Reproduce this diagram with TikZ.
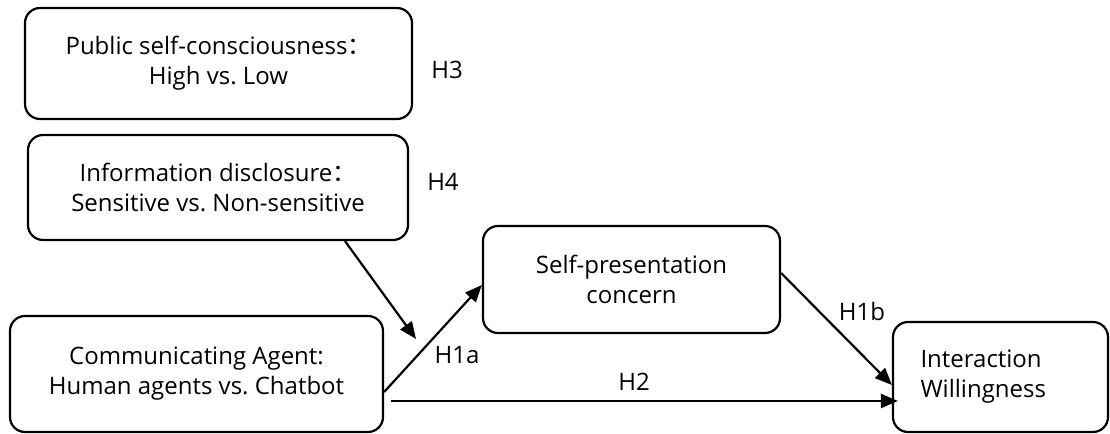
\documentclass[tikz,border=0pt]{standalone}
\usepackage{fontspec}
\setmainfont{Open Sans}
\newfontfamily\cjk{Noto Sans CJK SC}
\usetikzlibrary{arrows.meta,positioning}
\newcommand{\fwcolon}{{\cjk ：}}
\tikzset{
  varbox/.style={draw, line width=1.1pt, rounded corners=7.5pt, align=center, inner sep=0pt},
  hyp/.style={-{Triangle[length=8.5pt,width=7pt]}, line width=1.1pt},
  hlabel/.style={inner sep=0pt}
}
\begin{document}
\begin{tikzpicture}[x=0.5pt,y=-0.5pt,font=\fontsize{12}{15}\selectfont]
        \useasboundingbox (0,0) rectangle (1110,434);
        % variables
        \node[varbox, minimum width=193.5pt, minimum height=55.5pt] (pubself) at (218.5,63.5)
        {Public self-consciousness\fwcolon\\High vs.\ Low};
        \node[varbox, minimum width=190pt, minimum height=52.5pt] (infodisc) at (218,187.5)
        {Information disclosure\fwcolon\\Sensitive vs.\ Non-sensitive};
        \node[varbox, minimum width=148.5pt, minimum height=53.5pt] (selfpres) at (631.5,279.5)
        {Self-presentation\\concern};
        \node[varbox, minimum width=186.5pt, minimum height=58pt] (commagent) at (196.5,374)
        {Communicating Agent:\\Human agents vs.\ Chatbot};
        \node[varbox, align=left, text width=80pt, inner xsep=13.75pt, minimum height=55pt] (interwill) at (1000.5,377)
        {Interaction\\Willingness};
        % hypotheses
        \node[hlabel] (hthree) at (447,70) {H3};
        \node[hlabel] (hfour) at (443,182) {H4};
        \node[hlabel] (honea) at (457,355) {H1a};
        \node[hlabel] (honeb) at (862,311) {H1b};
        \node[hlabel] (htwo) at (634,382) {H2};
        % paths
        \coordinate (modtip) at (416,339);
        \draw[hyp] ([xshift=63.5pt]infodisc.south) -- (modtip);
        \draw[hyp] ([yshift=-9pt]commagent.east) -- ([yshift=-2.75pt]selfpres.west);
        \draw[hyp] ([yshift=3.25pt]selfpres.east) -- ([yshift=-4pt]interwill.west);
        \draw[hyp] ([xshift=3.5pt,yshift=-13.5pt]commagent.east) coordinate (htwostart)
        -- ([xshift=3pt]htwostart -| interwill.west);
\end{tikzpicture}
\end{document}
